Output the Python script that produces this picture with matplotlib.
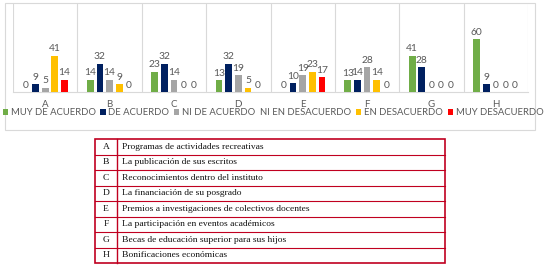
import matplotlib
matplotlib.use("Agg")
import matplotlib.pyplot as plt
import numpy as np
from matplotlib.patches import Rectangle

categories = ["A", "B", "C", "D", "E", "F", "G", "H"]
series_names = ["MUY DE ACUERDO", "DE ACUERDO", "NI DE ACUERDO  NI EN DESACUERDO",
                "EN DESACUERDO", "MUY DESACUERDO"]
muy_de_acuerdo = [0, 14, 23, 13, 0, 13, 41, 60]
de_acuerdo = [9, 32, 32, 32, 10, 14, 28, 9]
ni_ni = [5, 14, 14, 19, 19, 28, 0, 0]
en_desacuerdo = [41, 9, 0, 5, 23, 14, 0, 0]
muy_desacuerdo = [14, 0, 0, 0, 17, 0, 0, 0]
descriptions = [
    "Programas de actividades recreativas",
    "La publicación de sus escritos",
    "Reconocimientos dentro del instituto",
    "La financiación de su posgrado",
    "Premios a investigaciones de colectivos docentes",
    "La participación en eventos académicos",
    "Becas de educación superior para sus hijos",
    "Bonificaciones económicas",
]
colors = ["#70AD47", "#002060", "#A5A5A5", "#FFC000", "#FF0000"]
series = [muy_de_acuerdo, de_acuerdo, ni_ni, en_desacuerdo, muy_desacuerdo]

W, H = 545, 268
plt.rcParams['font.family'] = ['Lato', 'DejaVu Sans']
fig = plt.figure(figsize=(W / 100, H / 100), dpi=100)

bg = fig.add_axes([0, 0, 1, 1])
bg.set_xlim(0, W)
bg.set_ylim(H, 0)
bg.axis("off")
bg.add_patch(Rectangle((5, 3), 530, 127, fill=False, ec="#D9D9D9", lw=0.8))

left, right, top, base = 13, 528, 3, 92
ax = fig.add_axes([left / W, 1 - base / H, (right - left) / W, (base - top) / H])
ax.set_facecolor("none")
x = np.arange(len(categories))
step, bw = 0.15, 0.105
txt = "#595959"
for i, (vals, c) in enumerate(zip(series, colors)):
    pos = x + (i - 2) * step
    bars = ax.bar(pos, vals, width=bw, color=c, label=series_names[i], zorder=3)
    ax.bar_label(bars, labels=[str(v) for v in vals], padding=1.5, fontsize=7.4,
                 color=txt)
ax.set_xlim(-0.5, 7.5)
ax.set_ylim(0, 100)
for s in ["top", "left", "right"]:
    ax.spines[s].set_visible(False)
ax.spines["bottom"].set_color("#D9D9D9")
ax.spines["bottom"].set_linewidth(0.8)
for b in np.arange(-0.5, 8.0, 1.0):
    ax.axvline(b, color="#D9D9D9", lw=0.8, zorder=1)
ax.set_yticks([])
ax.set_xticks(x)
ax.set_xticklabels(categories, fontsize=7, color=txt)
ax.tick_params(axis="x", length=0, pad=6)

fig.legend(loc="center", bbox_to_anchor=(273 / W, 1 - 113 / H), ncol=5, frameon=False,
           fontsize=6.8, handlelength=0.55, handleheight=0.55, handletextpad=0.3,
           columnspacing=0.5, labelcolor=txt, borderpad=0)

# table
tl, tr, ttop, tbot, tdiv = 95, 445, 139, 263, 117
rh = (tbot - ttop) / len(categories)
red = "#C00020"
bg.add_patch(Rectangle((tl, ttop), tr - tl, tbot - ttop, fill=False, ec=red, lw=1.2))
bg.plot([tdiv, tdiv], [ttop, tbot], color=red, lw=1.0)
for k in range(1, len(categories)):
    yk = ttop + k * rh
    bg.plot([tl, tr], [yk, yk], color=red, lw=0.8)
for k, (cat, d) in enumerate(zip(categories, descriptions)):
    yc = ttop + (k + 0.5) * rh
    bg.text((tl + tdiv) / 2, yc, cat, ha="center", va="center", fontsize=6.8,
            family="Liberation Serif", color="#111111")
    bg.text(tdiv + 5, yc, d, ha="left", va="center", fontsize=6.8,
            family="Liberation Serif", color="#111111")

fig.savefig("out.png", dpi=100)
